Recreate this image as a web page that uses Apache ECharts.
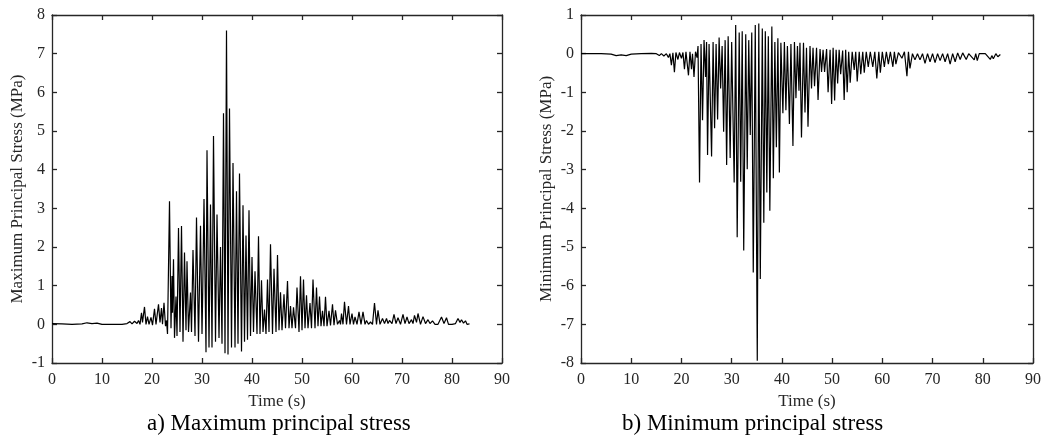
<!DOCTYPE html>
<html>
<head>
<meta charset="utf-8">
<script src="https://cdn.jsdelivr.net/npm/echarts@6/dist/echarts.min.js"></script>
<style>
html,body{margin:0;padding:0;background:#fff;}
#chart{width:1050px;height:441px;}
</style>
</head>
<body>
<div id="chart"></div>
<script>
// Time (s) / stress (MPa) pairs
const maxStress = [[0,0.02],[2,0.01],[4,0.0],[6,0.01],[7,0.04],[8,0.02],[9,0.03],[10,0.0],[12,0.0],[14,0.0],[15,0.02],[15.6,0.07],[16,0.01],[16.5,0.08],[17,0.02],[17.3,0.1],[17.6,0.0],[17.9,0.3],[18.1,0.05],[18.5,0.45],[18.8,0.0],[19.1,0.2],[19.4,0.0],[19.8,0.18],[20.1,-0.02],[20.5,0.4],[20.8,0.0],[21.3,0.52],[21.6,0.05],[21.9,0.42],[22.1,0.0],[22.4,0.56],[22.7,-0.05],[22.9,0.1],[23.1,-0.25],[23.5,3.18],[23.8,-0.1],[24.0,1.25],[24.1,0.3],[24.3,1.68],[24.5,-0.35],[24.8,0.72],[25.0,-0.3],[25.3,2.49],[25.6,-0.2],[25.9,2.54],[26.2,-0.45],[26.5,1.86],[26.8,-0.15],[27.0,1.63],[27.3,-0.2],[27.7,0.82],[27.9,-0.2],[28.2,1.92],[28.6,-0.3],[28.9,2.76],[29.3,-0.45],[29.7,2.55],[30.0,-0.25],[30.1,0.5],[30.4,3.24],[30.8,-0.72],[31.0,4.5],[31.4,-0.6],[31.7,3.1],[32.0,-0.6],[32.3,4.87],[32.7,-0.45],[33.0,2.84],[33.4,-0.35],[33.7,2.0],[34.0,-0.5],[34.3,5.46],[34.6,-0.75],[34.9,7.6],[35.2,-0.78],[35.5,5.58],[35.9,-0.6],[36.2,4.17],[36.6,-0.6],[36.9,3.44],[37.2,-0.5],[37.5,3.9],[37.9,-0.7],[38.2,3.08],[38.5,-0.45],[38.8,2.3],[39.1,-0.4],[39.4,2.95],[39.7,-0.3],[40.0,1.74],[40.3,-0.2],[40.6,1.37],[41.0,-0.25],[41.3,2.28],[41.6,-0.25],[41.9,1.14],[42.2,-0.2],[42.5,0.38],[42.8,-0.25],[43.1,1.16],[43.4,-0.2],[43.7,2.07],[44.1,-0.25],[44.4,1.44],[44.8,-0.2],[45.1,1.79],[45.4,-0.15],[45.7,0.83],[46.0,-0.15],[46.4,0.78],[46.7,-0.1],[47.1,1.12],[47.4,-0.1],[47.7,0.47],[48.0,-0.1],[48.3,0.44],[48.7,-0.1],[49.0,0.95],[49.4,-0.2],[49.7,1.24],[50.0,-0.15],[50.3,1.16],[50.6,-0.1],[50.9,0.75],[51.2,-0.1],[51.6,0.55],[51.9,-0.1],[52.2,1.16],[52.6,-0.1],[52.9,0.95],[53.2,-0.05],[53.5,0.72],[53.8,-0.05],[54.1,0.35],[54.4,-0.05],[54.7,0.71],[55.0,-0.05],[55.4,0.35],[55.7,-0.03],[56.1,0.52],[56.4,-0.02],[56.7,0.36],[57.1,0.0],[57.5,0.1],[57.7,0.0],[57.9,0.28],[58.2,0.0],[58.5,0.58],[58.9,0.0],[59.3,0.47],[59.6,0.0],[60.0,0.28],[60.3,0.0],[60.6,0.19],[61.0,0.0],[61.4,0.32],[61.8,0.0],[62.2,0.32],[62.6,0.0],[62.9,0.1],[63.3,0.0],[63.7,0.06],[64.1,0.0],[64.5,0.55],[64.9,0.0],[65.2,0.36],[65.6,0.0],[66.1,0.15],[66.5,0.02],[66.9,0.15],[67.2,0.02],[67.5,0.1],[68.0,0.02],[68.4,0.26],[68.8,0.02],[69.2,0.17],[69.7,0.0],[70.2,0.26],[70.6,0.02],[71.0,0.19],[71.4,0.02],[71.9,0.12],[72.2,0.02],[72.5,0.23],[72.9,0.05],[73.2,0.28],[73.7,0.0],[74.2,0.2],[74.7,0.02],[75.2,0.12],[75.6,0.02],[76.1,0.09],[76.6,0.0],[77.2,0.0],[77.9,0.19],[78.4,0.02],[78.9,0.17],[79.3,0.0],[80.0,0.0],[80.7,0.02],[81.2,0.15],[81.6,0.05],[81.9,0.12],[82.3,0.03],[82.7,0.09],[83.0,0.0],[83.5,0.01]];

const minStress = [[0,0.0],[2,0.0],[4,0.0],[6,-0.01],[7,-0.05],[8,-0.03],[9,-0.05],[10,-0.01],[12,0.0],[14,0.01],[15,0.0],[15.6,-0.05],[16,0.0],[16.5,-0.06],[17,0.0],[17.4,-0.1],[17.7,0.0],[18.0,-0.3],[18.3,0.02],[18.6,-0.48],[18.9,0.03],[19.3,-0.15],[19.6,0.03],[20.0,-0.12],[20.3,0.03],[20.6,-0.4],[20.9,0.05],[21.4,-0.56],[21.7,0.05],[22.0,-0.4],[22.2,0.0],[22.5,-0.6],[22.8,0.05],[23.1,-0.1],[23.3,0.2],[23.6,-3.33],[23.9,0.25],[24.2,-1.72],[24.5,0.35],[24.8,-0.6],[25.0,0.3],[25.2,-2.62],[25.5,0.25],[26.0,-2.66],[26.3,0.3],[26.6,-1.93],[26.9,0.25],[27.2,-1.7],[27.5,0.42],[27.8,-0.9],[28.1,0.2],[28.4,-2.02],[28.7,0.35],[29.0,-2.88],[29.3,0.45],[29.7,-2.7],[30.0,0.3],[30.5,-3.33],[30.8,0.74],[31.1,-4.75],[31.5,0.55],[31.8,-3.31],[32.1,0.58],[32.4,-5.09],[32.8,0.5],[33.1,-2.99],[33.4,0.35],[33.7,-2.1],[34.0,0.55],[34.3,-5.66],[34.7,0.74],[35.1,-7.94],[35.4,0.78],[35.7,-5.83],[36.1,0.65],[36.4,-4.37],[36.7,0.58],[37.0,-3.59],[37.3,0.45],[37.6,-4.06],[38.0,0.7],[38.3,-3.22],[38.6,0.3],[38.9,-2.42],[39.2,0.4],[39.5,-3.07],[39.8,0.28],[40.2,-1.54],[40.5,0.3],[40.8,-1.46],[41.1,0.2],[41.5,-1.82],[41.8,0.25],[42.2,-2.39],[42.5,0.3],[42.8,-1.15],[43.1,0.2],[43.4,-0.96],[43.6,0.28],[43.9,-2.17],[44.3,0.28],[44.6,-1.52],[44.9,0.15],[45.2,-1.89],[45.6,0.2],[45.9,-0.9],[46.2,0.15],[46.5,-0.84],[46.9,0.15],[47.2,-1.2],[47.6,0.12],[47.9,-0.47],[48.2,0.1],[48.5,-0.47],[48.9,0.12],[49.2,-1.0],[49.6,0.1],[49.9,-1.3],[50.2,0.15],[50.5,-1.21],[50.8,0.1],[51.1,-0.77],[51.4,0.1],[51.7,-0.53],[52.1,0.08],[52.4,-1.2],[52.7,0.1],[53.0,-1.0],[53.3,0.05],[53.6,-0.75],[54.0,0.05],[54.4,-0.42],[54.7,0.05],[55.0,-0.72],[55.4,0.05],[55.7,-0.53],[56.1,0.05],[56.4,-0.49],[56.8,0.05],[57.2,-0.34],[57.6,0.05],[58.1,-0.34],[58.5,0.05],[58.9,-0.64],[59.3,0.05],[59.6,-0.49],[60.0,0.05],[60.4,-0.34],[60.8,0.05],[61.2,-0.27],[61.6,0.05],[62.1,-0.34],[62.4,0.05],[62.7,-0.27],[63.2,0.03],[63.9,-0.12],[64.4,0.05],[64.9,-0.58],[65.2,0.05],[65.5,-0.38],[66.0,0.0],[66.5,-0.16],[67.0,0.0],[67.5,-0.16],[68.0,0.0],[68.5,-0.25],[69.0,0.0],[69.5,-0.21],[70.0,0.0],[70.5,-0.23],[71.0,0.0],[71.5,-0.18],[72.0,0.0],[72.5,-0.21],[73.0,0.0],[73.5,-0.27],[74.0,0.0],[74.5,-0.21],[75.0,0.02],[75.5,-0.15],[76.0,0.02],[76.7,-0.15],[77.2,0.0],[78.3,-0.16],[78.6,0.0],[78.9,-0.18],[79.3,0.0],[80.5,0.0],[81.5,-0.15],[81.8,-0.05],[82.1,-0.13],[82.6,0.0],[83.0,-0.08],[83.5,-0.02]];

const xRange = {min: 0, max: 90, interval: 10};
const yRangeMax = {min: -1, max: 8, interval: 1};
const yRangeMin = {min: -8, max: 1, interval: 1};
const xTitle = 'Time (s)';
const yTitleMax = 'Maximum Principal Stress (MPa)';
const yTitleMin = 'Minimum Principal Stress (MPa)';
const captionA = 'a) Maximum principal stress';
const captionB = 'b) Minimum principal stress';

const FONT = '"Liberation Serif", "Times New Roman", serif';
const TXT = '#262626';
const AX = '#262626';

const chart = echarts.init(document.getElementById('chart'), null, {renderer: 'canvas'});

function xAx(grid, top) {
  return {
    type: 'value', gridIndex: grid, position: top ? 'top' : 'bottom',
    min: xRange.min, max: xRange.max, interval: xRange.interval,
    name: top ? '' : xTitle, nameLocation: 'middle', nameGap: 30,
    nameTextStyle: {fontFamily: FONT, fontSize: 17, color: TXT},
    axisLine: {show: true, onZero: false, lineStyle: {color: AX, width: 1.3}},
    axisTick: {show: true, inside: true, length: 5, lineStyle: {color: AX, width: 1.3}},
    axisLabel: {show: !top, fontFamily: FONT, fontSize: 16, color: TXT, margin: 9},
    splitLine: {show: false}
  };
}
function yAx(grid, right, rng, title) {
  return {
    type: 'value', gridIndex: grid, position: right ? 'right' : 'left',
    min: rng.min, max: rng.max, interval: rng.interval,
    name: right ? '' : title, nameLocation: 'middle', nameGap: 26,
    nameTextStyle: {fontFamily: FONT, fontSize: 17, color: TXT},
    axisLine: {show: true, onZero: false, lineStyle: {color: AX, width: 1.3}},
    axisTick: {show: true, inside: true, length: 5, lineStyle: {color: AX, width: 1.3}},
    axisLabel: {show: !right, fontFamily: FONT, fontSize: 16, color: TXT, margin: 7},
    splitLine: {show: false}
  };
}

const option = {
  animation: false,
  backgroundColor: '#fff',
  grid: [
    {left: 52, right: 548, top: 15, bottom: 78},
    {left: 581, right: 17, top: 15, bottom: 78}
  ],
  xAxis: [xAx(0, false), xAx(0, true), xAx(1, false), xAx(1, true)],
  yAxis: [yAx(0, false, yRangeMax, yTitleMax), yAx(0, true, yRangeMax, ''),
          yAx(1, false, yRangeMin, yTitleMin), yAx(1, true, yRangeMin, '')],
  series: [
    {type: 'line', xAxisIndex: 0, yAxisIndex: 0, data: maxStress, showSymbol: false,
     lineStyle: {color: '#000', width: 1.2}, z: 1},
    {type: 'line', xAxisIndex: 2, yAxisIndex: 2, data: minStress, showSymbol: false,
     lineStyle: {color: '#000', width: 1.2}, z: 1}
  ],
  graphic: [
    {type: 'text', left: 147, top: 412, style: {text: captionA, font: '23px ' + FONT, fill: '#000'}},
    {type: 'text', left: 622, top: 412, style: {text: captionB, font: '23px ' + FONT, fill: '#000'}}
  ]
};
chart.setOption(option);
</script>
</body>
</html>
